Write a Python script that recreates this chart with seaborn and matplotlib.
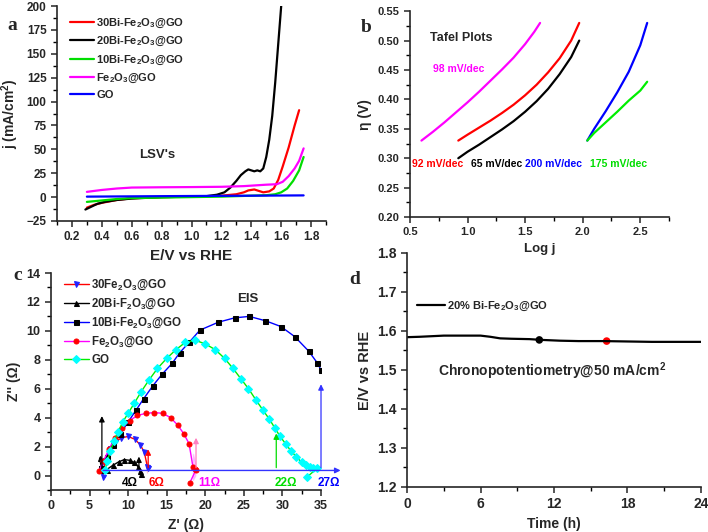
import numpy as np
import pandas as pd
import matplotlib
matplotlib.use("Agg")
import matplotlib.pyplot as plt
import seaborn as sns
from matplotlib.ticker import MultipleLocator

sns.set_style("ticks")
plt.rcParams['font.family'] = ['Liberation Sans', 'DejaVu Sans']
plt.rcParams['font.weight'] = 'bold'
plt.rcParams['axes.labelweight'] = 'bold'
plt.rcParams['mathtext.default'] = 'regular'
plt.rcParams['axes.linewidth'] = 1.2

# ---------------- (a) LSV ----------------
lsv_names = ['30Bi-Fe$_2$O$_3$@GO', '20Bi-Fe$_2$O$_3$@GO', '10Bi-Fe$_2$O$_3$@GO',
             'Fe$_2$O$_3$@GO', 'GO']
lsv_colors = ['#ff0000', '#000000', '#00dd00', '#ff00ff', '#0000ff']
e_30bi = [0.30, 0.35, 0.40, 0.50, 0.60, 0.80, 1.00, 1.20, 1.30, 1.35, 1.38, 1.42, 1.45, 1.48,
          1.52, 1.55, 1.58, 1.61, 1.65, 1.69, 1.72]
j_30bi = [-11, -8, -6, -3, -1.2, 0, 0.5, 1.5, 3, 5, 7, 8, 6.5, 5, 6, 9, 18, 32, 52, 75, 91]
e_20bi = [0.29, 0.33, 0.37, 0.42, 0.50, 0.60, 0.80, 1.00, 1.10, 1.17, 1.22, 1.26, 1.30, 1.33,
          1.36, 1.38, 1.40, 1.42, 1.44, 1.46, 1.48, 1.50, 1.52, 1.54, 1.56, 1.58, 1.60]
j_20bi = [-13, -10, -7, -5, -3, -1.5, 0, 0.5, 1, 2.5, 5, 10, 17, 23, 27, 29, 28, 27, 28, 27,
          30, 42, 60, 85, 120, 160, 200]
e_10bi = [0.30, 0.40, 0.50, 0.60, 0.80, 1.00, 1.20, 1.40, 1.50, 1.56, 1.60, 1.64, 1.68, 1.72, 1.75]
j_10bi = [-5, -3.5, -2, -1, -0.5, 0, 0.5, 1.5, 2, 3, 5, 9, 17, 28, 42]
e_fe = [0.30, 0.35, 0.40, 0.50, 0.60, 0.80, 1.00, 1.20, 1.35, 1.50, 1.57, 1.61, 1.65, 1.69, 1.72, 1.75]
j_fe = [5.5, 6.5, 7.5, 9, 10, 10.3, 10.5, 10.8, 11.5, 13, 13.5, 16, 22, 30, 38, 51]
e_go = [0.30, 0.80, 1.30, 1.75]
j_go = [0.5, 1.0, 1.4, 1.8]

# ---------------- (b) Tafel ----------------
tafel_colors = ['#ff00ff', '#ff0000', '#000000', '#0000ff', '#00ee00']
logj_fe = [0.60, 0.70, 0.80, 0.90, 1.00, 1.10, 1.20, 1.30, 1.40, 1.50, 1.58, 1.63]
eta_fe = [0.330, 0.345, 0.361, 0.378, 0.395, 0.413, 0.432, 0.451, 0.471, 0.494, 0.515, 0.530]
logj_30 = [0.92, 1.00, 1.10, 1.20, 1.30, 1.40, 1.50, 1.60, 1.70, 1.80, 1.90, 1.97]
eta_30 = [0.330, 0.340, 0.352, 0.364, 0.377, 0.391, 0.407, 0.425, 0.446, 0.470, 0.500, 0.530]
logj_20 = [0.92, 1.00, 1.10, 1.20, 1.30, 1.40, 1.50, 1.60, 1.70, 1.80, 1.90, 1.97]
eta_20 = [0.300, 0.311, 0.323, 0.336, 0.349, 0.363, 0.379, 0.397, 0.418, 0.443, 0.472, 0.500]
logj_go = [2.04, 2.10, 2.20, 2.30, 2.40, 2.50, 2.56]
eta_go = [0.330, 0.350, 0.380, 0.412, 0.447, 0.492, 0.530]
logj_10 = [2.04, 2.10, 2.20, 2.30, 2.40, 2.50, 2.56]
eta_10 = [0.330, 0.343, 0.361, 0.379, 0.398, 0.415, 0.430]
slope_labels = ['98 mV/dec', '92 mV/dec', '65 mV/dec', '200 mV/dec', '175 mV/dec']

# ---------------- (c) EIS ----------------
eis_names = ['30Fe$_2$O$_3$@GO', '20Bi-F$_2$O$_3$@GO', '10Bi-Fe$_2$O$_3$@GO', 'Fe$_2$O$_3$@GO', 'GO']
zr_30 = [6.7, 7.0, 7.6, 8.3, 9.1, 10.0, 10.9, 11.6, 12.1, 12.5, 12.6, 12.5]
zi_30 = [-0.1, 1.0, 1.8, 2.3, 2.6, 2.7, 2.5, 2.1, 1.6, 1.0, 0.5, 0.2]
zr_20 = [6.3, 6.6, 7.2, 8.0, 8.8, 9.5, 10.2, 10.8, 11.3, 11.6, 11.7]
zi_20 = [1.2, 0.4, 0.4, 0.7, 0.95, 1.1, 1.05, 0.9, 0.6, 0.3, 0.1]
zr_10 = [6.5, 7.2, 8.0, 9.0, 10.0, 11.0, 12.0, 13.2, 14.4, 15.7, 16.7, 17.9, 19.3, 21.7,
         23.8, 25.7, 27.8, 29.8, 31.6, 33.4, 34.5, 35.0]
zi_10 = [0.5, 1.3, 2.1, 2.9, 3.7, 4.5, 5.3, 6.2, 7.0, 7.75, 8.5, 9.2, 10.05, 10.6,
         10.9, 11.0, 10.7, 10.3, 9.6, 8.6, 7.8, 7.3]
zr_fe = [6.2, 6.8, 7.5, 8.3, 9.2, 10.2, 11.2, 12.3, 13.4, 14.5, 15.5, 16.4, 17.2, 17.9,
         18.4, 18.7, 18.8, 18.7, 18.4, 18.0]
zi_fe = [0.3, 1.0, 1.8, 2.6, 3.3, 3.8, 4.15, 4.3, 4.35, 4.3, 4.0, 3.5, 2.9, 2.2,
         1.5, 0.9, 0.4, 0.0, -0.3, -0.5]
zr_go = [7.0, 7.3, 7.7, 8.2, 8.7, 9.3, 10.0, 10.8, 11.7, 12.7, 13.8, 15.0, 16.2, 17.4, 18.7,
         20.0, 21.3, 22.5, 23.6, 24.6, 25.6, 26.6, 27.5, 28.3, 29.0, 29.7, 30.4, 31.1, 31.8,
         32.5, 33.1, 33.6, 34.0, 34.5, 34.0, 33.2]
zi_go = [0.4, 1.0, 1.7, 2.4, 3.0, 3.7, 4.3, 5.0, 5.8, 6.6, 7.4, 8.1, 8.7, 9.2, 9.35,
         9.1, 8.7, 8.1, 7.4, 6.7, 6.0, 5.2, 4.5, 3.9, 3.3, 2.7, 2.2, 1.7, 1.3,
         0.9, 0.7, 0.6, 0.7, 0.5, 0.3, -0.1]
rct_x = [6.6, 11.4, 12.6, 18.8, 29.2, 35.0]
rct_top = [4.3, 1.5, 2.0, 2.8, 3.1, 6.5]
rct_colors = ['#000000', '#000000', '#ff0000', '#ff80c0', '#00dd00', '#3333ff']
rct_labels = ['4Ω', '6Ω', '11Ω', '22Ω', '27Ω']
rct_label_x = [10.2, 13.7, 20.5, 30.4, 36.0]
rct_label_colors = ['#000000', '#ff0000', '#ff00ff', '#00dd00', '#0000ff']

# ---------------- (d) chronopotentiometry ----------------
t_h = [0, 1, 3, 5, 6, 6.8, 7.6, 8.5, 10, 11, 12.5, 14, 16, 18, 20, 22, 24]
e_v = [1.584, 1.585, 1.588, 1.588, 1.588, 1.585, 1.581, 1.580, 1.579, 1.577, 1.575,
       1.574, 1.574, 1.573, 1.572, 1.572, 1.572]
mark_t = [10.8, 16.3]
mark_e = [1.577, 1.574]


def style_ax(ax, size=8.5):
    sns.despine(ax=ax)
    ax.patch.set_visible(False)
    ax.tick_params(which='major', direction='out', length=4, width=1.1, labelsize=size)
    ax.tick_params(which='minor', direction='out', length=3, width=1, color='black',
                   bottom=True, left=True)


fig = plt.figure(figsize=(7.08, 5.32), dpi=100)

# ---- a ----
ax = fig.add_axes([0.0805, 0.5846, 0.38, 0.404])
for xs, ys, c, n in zip([e_30bi, e_20bi, e_10bi, e_fe, e_go],
                        [j_30bi, j_20bi, j_10bi, j_fe, j_go], lsv_colors, lsv_names):
    sns.lineplot(x=xs, y=ys, ax=ax, color=c, lw=1.6, label=n, sort=False)
ax.set_xlim(0.1, 1.9)
ax.set_ylim(-25, 200)
ax.set_xticks([0.2, 0.4, 0.6, 0.8, 1.0, 1.2, 1.4, 1.6, 1.8])
ax.set_yticks(range(-25, 201, 25))
ax.xaxis.set_minor_locator(MultipleLocator(0.1))
ax.yaxis.set_minor_locator(MultipleLocator(12.5))
ax.set_xlabel('E/V vs RHE', fontsize=11)
ax.set_ylabel('j (mA/cm$^2$)', fontsize=10)
ax.text(0.77, 44, "LSV's", fontsize=9.5, fontweight='bold', ha='center', va='center')
ax.legend(loc='upper left', bbox_to_anchor=(0.03, 0.97), frameon=False, fontsize=8,
          handlelength=2.2, handletextpad=0.2, labelspacing=0.45, borderaxespad=0)
style_ax(ax)

# ---- b ----
ax = fig.add_axes([0.579, 0.592, 0.366, 0.387])
for xs, ys, c in zip([logj_fe, logj_30, logj_20, logj_go, logj_10],
                     [eta_fe, eta_30, eta_20, eta_go, eta_10], tafel_colors):
    sns.lineplot(x=xs, y=ys, ax=ax, color=c, lw=1.6, sort=False)
ax.set_xlim(0.5, 2.75)
ax.set_ylim(0.20, 0.55)
ax.set_xticks([0.5, 1.0, 1.5, 2.0, 2.5])
ax.set_yticks(np.arange(0.20, 0.551, 0.05))
ax.yaxis.set_major_formatter(matplotlib.ticker.FormatStrFormatter('%.2f'))
ax.xaxis.set_minor_locator(MultipleLocator(0.25))
ax.yaxis.set_minor_locator(MultipleLocator(0.025))
ax.set_xlabel('Log j', fontsize=9.5)
ax.set_ylabel('η (V)', fontsize=10)
ax.text(0.946, 0.505, 'Tafel Plots', fontsize=9, fontweight='bold', ha='center', va='center')
for (tx, ty), s, c in zip([(0.92, 0.451), (0.74, 0.29), (1.25, 0.29), (1.75, 0.29), (2.31, 0.29)],
                          slope_labels, ['#ff00ff', '#ff0000', '#000000', '#0000ff', '#00dd00']):
    ax.text(tx, ty, s, fontsize=7.5, fontweight='bold', color=c, ha='center', va='center')
style_ax(ax, 8)

# ---- c ----
ax = fig.add_axes([0.072, 0.079, 0.3814, 0.4078])
ax.annotate('', xy=(37.9, 0.35), xytext=(6.4, 0.35), annotation_clip=False,
            arrowprops=dict(arrowstyle='-|>', color='#3333ff', lw=1, mutation_scale=8))
for xv, top, c in zip(rct_x, rct_top, rct_colors):
    ax.annotate('', xy=(xv, top), xytext=(xv, 0.35),
                arrowprops=dict(arrowstyle='-|>', color=c, lw=0.9, mutation_scale=8))
eis_style = [('#ff0000', 'v', '#2222ff'), ('#000000', '^', '#000000'),
             ('#0000ff', 's', '#000000'), ('#ff00ff', 'o', '#ff0000'),
             ('#00ee00', 'D', '#00ffff')]
for xs, ys, (lc, mk, mc), n in zip([zr_30, zr_20, zr_10, zr_fe, zr_go],
                                   [zi_30, zi_20, zi_10, zi_fe, zi_go], eis_style, eis_names):
    sns.lineplot(x=xs, y=ys, ax=ax, color=lc, lw=1.0, marker=mk, markersize=3.6,
                 markerfacecolor=mc, markeredgecolor=mc, label=n, sort=False)
for s, xv, c in zip(rct_labels, rct_label_x, rct_label_colors):
    ax.text(xv, -0.5, s, fontsize=8.5, fontweight='bold', color=c, ha='center', va='center',
            clip_on=False)
ax.set_xlim(0, 35)
ax.set_ylim(-1, 14)
ax.set_xticks(range(0, 36, 5))
ax.set_yticks(range(0, 15, 2))
ax.xaxis.set_minor_locator(MultipleLocator(2.5))
ax.yaxis.set_minor_locator(MultipleLocator(1))
ax.set_xlabel("Z' (Ω)", fontsize=10)
ax.set_ylabel("Z'' (Ω)", fontsize=10)
ax.text(25.5, 12.2, 'EIS', fontsize=9.5, fontweight='bold', ha='center', va='center')
ax.legend(loc='upper left', bbox_to_anchor=(0.03, 1.0), frameon=False, fontsize=8.3,
          handlelength=2.2, handletextpad=0.2, labelspacing=0.4, borderaxespad=0)
style_ax(ax, 9)

# ---- d ----
ax = fig.add_axes([0.575, 0.0846, 0.415, 0.44])
sns.lineplot(x=t_h, y=e_v, ax=ax, color='black', lw=1.6, label='20% Bi-Fe$_2$O$_3$@GO')
sns.scatterplot(x=mark_t, y=mark_e, ax=ax, hue=['k', 'r'], palette=['black', 'red'],
                s=30, edgecolor='none', legend=False)
ax.set_xlim(0, 24)
ax.set_ylim(1.2, 1.8)
ax.set_xticks(range(0, 25, 6))
ax.set_yticks(np.arange(1.2, 1.81, 0.1))
ax.yaxis.set_major_formatter(matplotlib.ticker.FormatStrFormatter('%.1f'))
ax.xaxis.set_minor_locator(MultipleLocator(3))
ax.yaxis.set_minor_locator(MultipleLocator(0.05))
ax.set_xlabel('Time (h)', fontsize=10)
ax.set_ylabel('E/V vs RHE', fontsize=10.5)
ax.text(11.85, 1.498, 'Chronopotentiometry@50 mA/cm$^2$', fontsize=10, fontweight='bold',
        ha='center', va='center')
ax.legend(loc='upper left', bbox_to_anchor=(0.02, 0.82), frameon=False, fontsize=8,
          handlelength=2.5, handletextpad=0.2, borderaxespad=0)
style_ax(ax, 10)

for s, (x, y) in zip(['a', 'b', 'c', 'd'], [(12, 25), (366, 27), (18, 275), (355, 280)]):
    fig.text(x / 708, 1 - y / 532, s, fontsize=14, fontweight='bold',
             family=['Liberation Serif', 'DejaVu Serif'], ha='center', va='center')

fig.savefig('out.png', dpi=100)
